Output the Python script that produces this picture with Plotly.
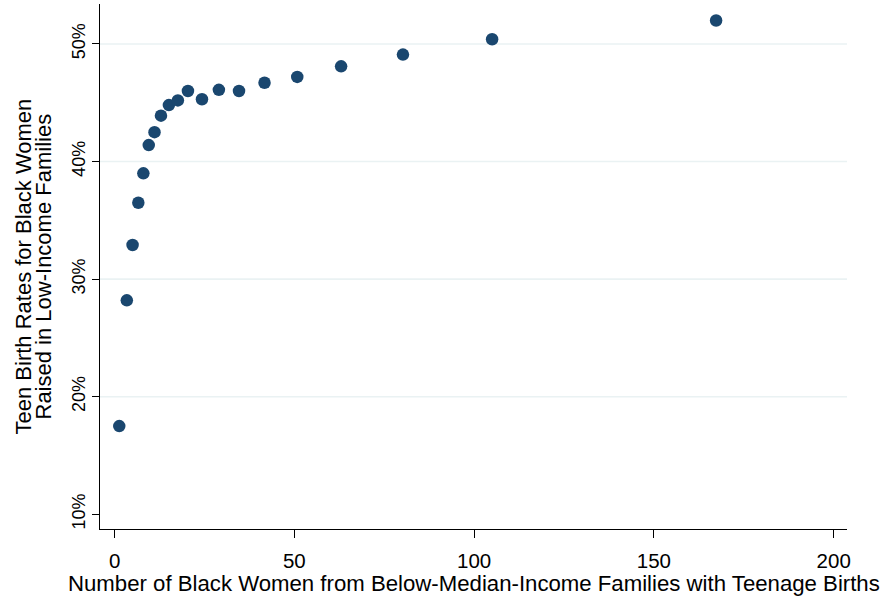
import plotly.graph_objects as go

# Data
num_women = [1.3, 3.4, 5.0, 6.6, 8.0, 9.5, 11.1, 12.9, 15.1, 17.6, 20.4, 24.3,
             29.0, 34.6, 41.7, 50.8, 63.0, 80.2, 105.0, 167.3]
teen_birth_rate = [17.5, 28.2, 32.9, 36.5, 39.0, 41.4, 42.5, 43.9, 44.8, 45.2,
                   46.0, 45.3, 46.1, 46.0, 46.7, 47.2, 48.1, 49.1, 50.4, 52.0]

x_ticks = [0, 50, 100, 150, 200]
y_ticks = [10, 20, 30, 40, 50]
y_tick_labels = ["10%", "20%", "30%", "40%", "50%"]

x_title = "Number of Black Women from Below-Median-Income Families with Teenage Births"
y_title_lines = ["Teen Birth Rates for Black Women", "Raised in Low-Income Families"]

FONT = "Liberation Sans, Arial, sans-serif"
NAVY = "#1a476f"
GRID = "#eaf2f3"

fig = go.Figure()
fig.add_trace(go.Scatter(
    x=num_women, y=teen_birth_rate, mode="markers",
    marker=dict(size=12.5, color=NAVY, line=dict(width=0)),
    showlegend=False, hoverinfo="x+y",
))

# horizontal gridlines (Stata-style: none at the lowest tick)
for v in y_ticks[1:]:
    fig.add_shape(type="line", xref="paper", x0=0, x1=1, yref="y", y0=v, y1=v,
                  line=dict(color=GRID, width=1.6), layer="below")

# axis titles as annotations (tight Stata-like line spacing)
fig.add_annotation(text=x_title, xref="paper", yref="paper", x=0.5, y=0,
                   xanchor="center", yanchor="middle", yshift=-54, showarrow=False,
                   font=dict(size=22.2))
for line_text, shift in zip(y_title_lines, [-77, -57]):
    fig.add_annotation(text=line_text, xref="paper", yref="paper", x=0, y=0.5,
                       xanchor="center", yanchor="middle", xshift=shift,
                       textangle=-90, showarrow=False, font=dict(size=22))

fig.update_layout(
    width=885, height=601,
    margin=dict(l=100, r=38, t=4, b=72, autoexpand=False),
    paper_bgcolor="white", plot_bgcolor="white",
    font=dict(family=FONT, size=20, color="black"),
    xaxis=dict(
        range=[-4.06, 203.7], tickvals=x_ticks, ticktext=[str(t) for t in x_ticks],
        showgrid=False, zeroline=False, showline=True, linecolor="black", linewidth=1,
        ticks="outside", ticklen=8, tickcolor="black", tickwidth=1,
        tickfont=dict(size=20.5), ticklabelstandoff=5,
    ),
    yaxis=dict(
        range=[8.75, 53.4], tickvals=y_ticks, ticktext=y_tick_labels,
        showgrid=False, zeroline=False, showline=True, linecolor="black", linewidth=1,
        ticks="outside", ticklen=7, tickcolor="black", tickwidth=1,
        tickangle=-90, tickfont=dict(size=18),
    ),
)

fig.write_html("out.html", config={"displayModeBar": False},
               post_script="document.body.style.margin='0px';")
